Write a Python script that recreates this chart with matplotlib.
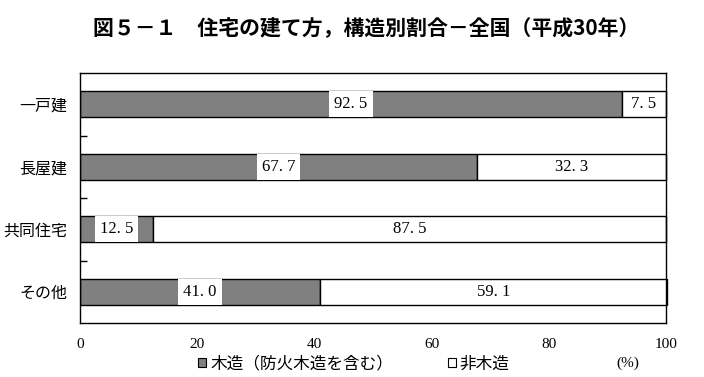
import matplotlib.pyplot as plt
from matplotlib.patches import Patch

plt.rcParams['font.family'] = ['Noto Sans CJK JP', 'DejaVu Sans']

categories = ["一戸建", "長屋建", "共同住宅", "その他"]
wood = [92.5, 67.7, 12.5, 41.0]
non_wood = [7.5, 32.3, 87.5, 59.1]
x_ticks = [0, 20, 40, 60, 80, 100]
title = "図５－１　住宅の建て方，構造別割合－全国（平成30年）"

GRAY = "#808080"
NUM_FONT = ["Liberation Serif", "DejaVu Serif"]

fig = plt.figure(figsize=(7.04, 3.77), dpi=100)
ax = fig.add_axes([80 / 704, 1 - 323 / 377, 586 / 704, 250 / 377])

y = list(range(len(categories)))
bh = 0.42
ax.barh(y, wood, height=bh, color=GRAY, edgecolor="black", linewidth=1.0)
ax.barh(y, non_wood, left=wood, height=bh, color="white", edgecolor="black",
        linewidth=1.0, clip_on=False)

box = dict(boxstyle="square,pad=0.3", facecolor="white", edgecolor="none")
for yi, w, n in zip(y, wood, non_wood):
    ax.text(w / 2, yi, f"{w:.1f}".replace(".", ". "), ha="center", va="center",
            fontsize=12, family=NUM_FONT, bbox=box)
    ax.text(w + n / 2, yi, f"{n:.1f}".replace(".", ". "), ha="center",
            va="center", fontsize=12, family=NUM_FONT)

ax.set_xlim(0, 100)
ax.set_ylim(len(categories) - 0.5, -0.5)
ax.set_yticks(y)
ax.set_yticklabels(categories, fontsize=11.5)
ax.set_yticks([0.5, 1.5, 2.5], minor=True)
ax.tick_params(axis="y", which="major", length=0, pad=9)
ax.tick_params(axis="y", which="minor", length=5, direction="in", width=1)
ax.set_xticks(x_ticks)
ax.set_xticklabels([str(t) for t in x_ticks], family=NUM_FONT, fontsize=11)
ax.tick_params(axis="x", length=0, pad=11)
for s in ax.spines.values():
    s.set_linewidth(1.0)

fig.text(366 / 704, 1 - 29 / 377, title, ha="center", va="center",
         fontsize=15, fontweight="bold")

handles = [Patch(facecolor=GRAY, edgecolor="black", linewidth=0.8),
           Patch(facecolor="white", edgecolor="black", linewidth=0.8)]
fig.legend(handles, ["木造（防火木造を含む）", "非木造"], ncol=2, frameon=False,
           loc="center", bbox_to_anchor=(354 / 704, 1 - 364 / 377),
           fontsize=12, handlelength=0.45, handleheight=0.45,
           handletextpad=0.25, columnspacing=3.3, borderpad=0)
fig.text(628 / 704, 1 - 363 / 377, "(%)", ha="center", va="center",
         fontsize=11, family=NUM_FONT)

fig.savefig("out.png", dpi=100)
